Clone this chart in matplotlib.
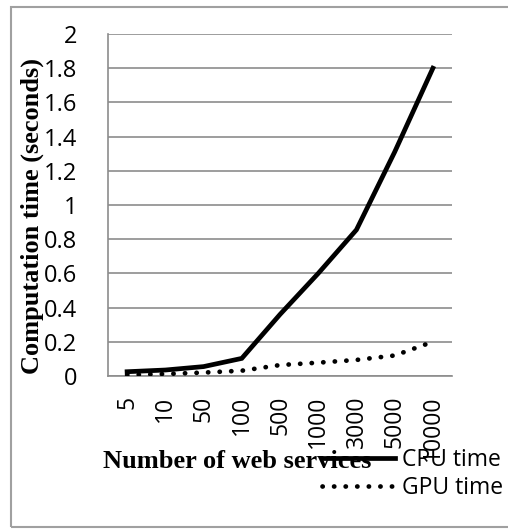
import matplotlib
matplotlib.use('Agg')
import matplotlib.pyplot as plt
from matplotlib.patches import Rectangle

# 데이터
services = ['5', '10', '50', '100', '500', '1000', '3000', '5000', '10000']
cpu_time = [0.025, 0.035, 0.055, 0.103, 0.36, 0.6, 0.855, 1.31, 1.8]
gpu_time = [0.006, 0.012, 0.02, 0.031, 0.064, 0.078, 0.094, 0.12, 0.2]
y_ticks = [0, 0.2, 0.4, 0.6, 0.8, 1, 1.2, 1.4, 1.6, 1.8, 2]
y_labels = ['0', '0.2', '0.4', '0.6', '0.8', '1', '1.2', '1.4', '1.6', '1.8', '2']

W, H = 508, 529
fig = plt.figure(figsize=(W / 100, H / 100), dpi=100)
fig.patch.set_facecolor('white')

# 바깥 테두리
fig.patches.append(Rectangle((11 / W, 1 - 527 / H), 1.0, (527 - 7) / H,
                             transform=fig.transFigure, fill=False,
                             edgecolor='#a0a0a0', linewidth=1.5))

ax = fig.add_axes([108 / W, 1 - 376 / H, (452 - 108) / W, (376 - 34) / H])
x = list(range(len(services)))
ax.plot(x, cpu_time, color='black', linewidth=3.4, solid_joinstyle='miter',
        label='CPU time', zorder=3)
ax.plot(x, gpu_time, color='black', linewidth=3.4, linestyle=(0, (0.05, 2.4)),
        dash_capstyle='round', label='GPU time', zorder=3)

ax.set_xlim(-0.5, len(services) - 0.5)
ax.set_ylim(0, 2)
ax.set_yticks(y_ticks)
ax.set_yticklabels(y_labels, fontsize=17, family='Open Sans')
ax.set_xticks(x)
ax.set_xticklabels(services, rotation=90, fontsize=16.5, family='Open Sans',
                   va='top')
ax.tick_params(axis='x', length=0, pad=14)
ax.tick_params(axis='y', length=0, pad=22)
ax.grid(axis='y', color='#8c8c8c', linewidth=1.2)
ax.set_axisbelow(True)
for s in ['top', 'right']:
    ax.spines[s].set_visible(False)
for s in ['left', 'bottom']:
    ax.spines[s].set_color('#8c8c8c')
    ax.spines[s].set_linewidth(1.2)

fig.text(32 / W, 1 - 216 / H, 'Computation time (seconds)', rotation=90,
         ha='center', va='center', family='Liberation Serif',
         fontweight='bold', fontsize=19)
fig.text(237 / W, 1 - 461 / H, 'Number of web services', ha='center',
         va='center', family='Liberation Serif', fontweight='bold', fontsize=19)

leg = fig.legend(loc='center right', bbox_to_anchor=(503 / W, 1 - 474 / H),
                 frameon=False, prop={'family': 'Open Sans', 'size': 16.5},
                 handlelength=3.2, handletextpad=0.3, labelspacing=0.2,
                 borderaxespad=0, borderpad=0)

plt.savefig('out.png', dpi=100)
